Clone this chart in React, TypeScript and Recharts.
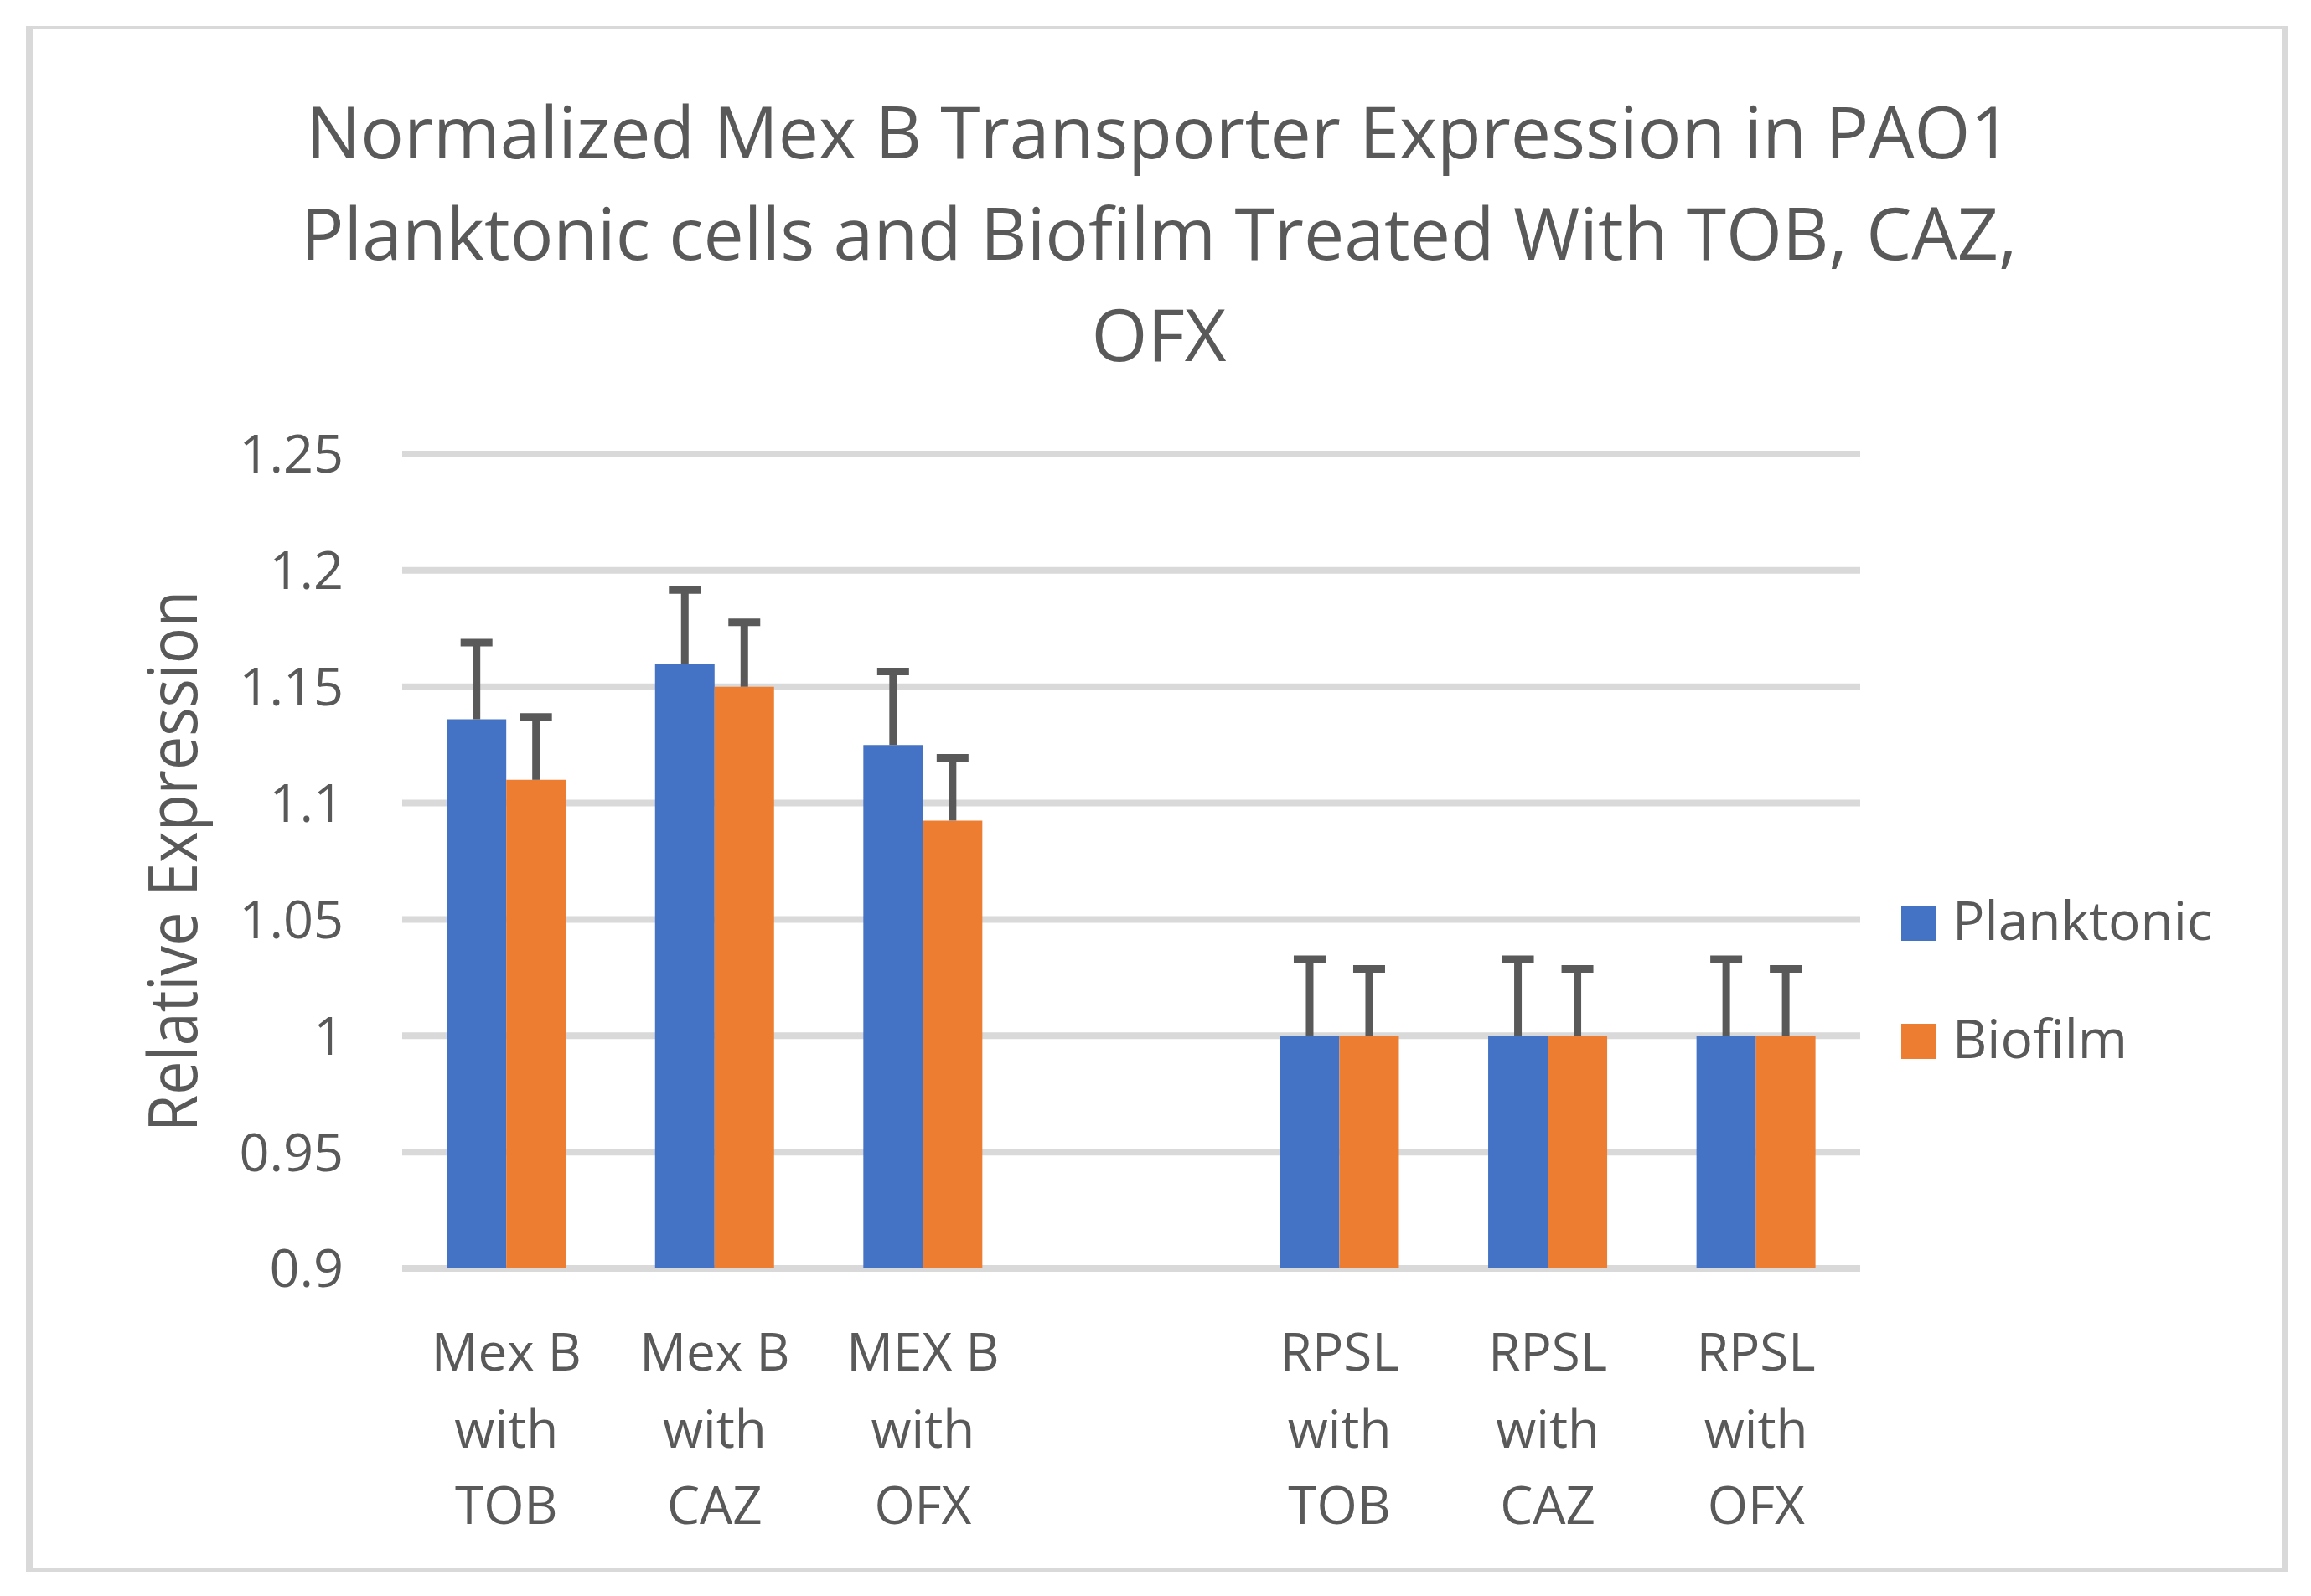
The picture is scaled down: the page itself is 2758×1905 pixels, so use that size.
import React from "react";
import { BarChart, Bar, XAxis, YAxis, CartesianGrid, ErrorBar } from "recharts";

// categories (the blank one is the gap between the Mex B and RPSL groups)
const categories = [
  "Mex B\nwith\nTOB",
  "Mex B\nwith\nCAZ",
  "MEX B\nwith\nOFX",
  " ",
  "RPSL\nwith\nTOB",
  "RPSL\nwith\nCAZ",
  "RPSL\nwith\nOFX",
];

const planktonic = [1.136, 1.16, 1.125, null, 1, 1, 1];
const biofilm = [1.11, 1.15, 1.0925, null, 1, 1, 1];
const planktonicErr = [0.033, 0.0316, 0.0316, null, 0.0329, 0.0329, 0.0329];
const biofilmErr = [0.027, 0.0277, 0.027, null, 0.0287, 0.0287, 0.0287];

const yTicks = [0.9, 0.95, 1, 1.05, 1.1, 1.15, 1.2, 1.25];

const seriesNames = ["Planktonic", "Biofilm"];
const seriesColors = ["#4472C4", "#ED7D31"];

const titleLines = [
  "Normalized Mex B Transporter Expression in PAO1",
  "Planktonic cells and Biofilm Treated With TOB, CAZ,",
  "OFX",
];

const TEXT = "#595959";
const GRID = "#d9d9d9";
const FONT = "'Open Sans', sans-serif";

const rows = categories.map((name, i) => ({
  name,
  planktonic: planktonic[i],
  biofilm: biofilm[i],
  planktonicErr: planktonicErr[i] == null ? null : [0, planktonicErr[i]],
  biofilmErr: biofilmErr[i] == null ? null : [0, biofilmErr[i]],
}));

function CategoryTick(props: any) {
  const { x, y, payload } = props;
  const lines = String(payload.value)
    .split("\n")
    .filter((l) => l.trim() !== "");
  return (
    <g>
      {lines.map((l, i) => (
        <text key={i} x={x} y={y + 120 + i * 91.5} textAnchor="middle" fill={TEXT} fontSize={62} fontFamily={FONT}>
          {l}
        </text>
      ))}
    </g>
  );
}

export default function App() {
  return (
    <div style={{ position: "fixed", left: 0, top: 0, width: 2758, height: 1905, background: "#fff", fontFamily: FONT }}>
      <style>{`.recharts-errorBar line:nth-of-type(3){display:none}`}</style>
      <div
        style={{
          position: "absolute",
          left: 31,
          top: 31,
          width: 2700,
          height: 1845,
          boxSizing: "border-box",
          borderStyle: "solid",
          borderColor: GRID,
          borderWidth: "4px 8px",
        }}
      />
      <div style={{ position: "absolute", left: 0, top: 0 }}>
        <BarChart
          width={2758}
          height={1905}
          data={rows}
          margin={{ top: 542, right: 538, bottom: 91, left: 360 }}
          barCategoryGap="21.4%"
          barGap={0}
        >
          <CartesianGrid vertical={false} stroke={GRID} strokeWidth={8} />
          <XAxis
            dataKey="name"
            interval={0}
            axisLine={false}
            tickLine={false}
            tickSize={0}
            height={300}
            tick={<CategoryTick />}
          />
          <YAxis
            domain={[0.9, 1.25]}
            ticks={yTicks}
            width={120}
            axisLine={false}
            tickLine={false}
            tickSize={0}
            tickMargin={70}
            tick={{ fontSize: 63, fill: TEXT, fontFamily: FONT }}
          />
          <Bar dataKey="planktonic" name={seriesNames[0]} fill={seriesColors[0]} isAnimationActive={false}>
            <ErrorBar dataKey="planktonicErr" direction="y" width={19} strokeWidth={9} stroke={TEXT} isAnimationActive={false} />
          </Bar>
          <Bar dataKey="biofilm" name={seriesNames[1]} fill={seriesColors[1]} isAnimationActive={false}>
            <ErrorBar dataKey="biofilmErr" direction="y" width={19} strokeWidth={9} stroke={TEXT} isAnimationActive={false} />
          </Bar>
        </BarChart>
      </div>
      <svg width={2758} height={1905} style={{ position: "absolute", left: 0, top: 0, pointerEvents: "none" }}>
        {titleLines.map((t, i) => (
          <text key={i} x={1383} y={189 + i * 121} textAnchor="middle" fill={TEXT} fontSize={86} fontFamily={FONT}>
            {t}
          </text>
        ))}
        <text
          x={235}
          y={1028}
          transform="rotate(-90 235 1028)"
          textAnchor="middle"
          fill={TEXT}
          fontSize={80}
          fontFamily={FONT}
          textLength={646}
          lengthAdjust="spacingAndGlyphs"
        >
          Relative Expression
        </text>
        {seriesNames.map((n, i) => (
          <g key={n}>
            <rect x={2269} y={1081 + i * 141} width={42} height={42} fill={seriesColors[i]} />
            <text x={2330} y={1122 + i * 141} fill={TEXT} fontSize={64} fontFamily={FONT}>
              {n}
            </text>
          </g>
        ))}
      </svg>
    </div>
  );
}
